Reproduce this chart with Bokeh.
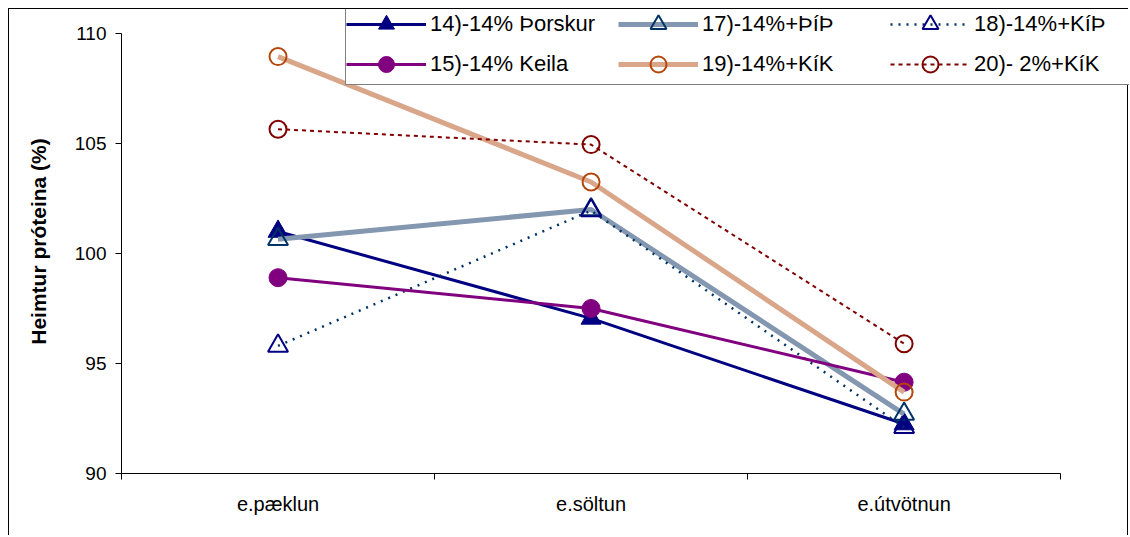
from bokeh.plotting import figure
from bokeh.models import Range1d, FixedTicker, Legend, LegendItem
from bokeh.embed import file_html
from bokeh.resources import INLINE

stages = ["e.pæklun", "e.söltun", "e.útvötnun"]
x_pos = [1, 2, 3]
s14 = [101.0, 97.05, 92.25]
s15 = [98.9, 97.5, 94.15]
s17 = [100.65, 102.0, 92.7]
s18 = [95.8, 101.95, 92.1]
s19 = [108.95, 103.25, 93.7]
s20 = [105.65, 104.95, 95.9]
names = ["14)-14% Þorskur", "15)-14% Keila", "17)-14%+ÞíÞ",
         "18)-14%+KíÞ", "19)-14%+KíK", "20)- 2%+KíK"]
y_ticks = [90, 95, 100, 105, 110]

FONT = "Liberation Sans"

# frame spans to the top/right of the canvas so the legend is not clipped;
# axes are limited with bounds
p = figure(width=1120, height=527, output_backend="svg", toolbar_location=None,
           x_range=Range1d(0.5, 3.72), y_range=Range1d(90, 111.09),
           min_border_left=112, min_border_top=0, min_border_right=0,
           min_border_bottom=63, margin=(8, 0, 0, 8),
           styles={"border-top": "1px solid black", "border-left": "1px solid black",
                   "border-right": "1px solid black"})
p.outline_line_color = None
p.xgrid.visible = False
p.ygrid.visible = False

# axes
p.yaxis.bounds = (90, 110)
p.yaxis.ticker = FixedTicker(ticks=y_ticks)
p.yaxis.major_tick_out = 6
p.yaxis.major_tick_in = 0
p.yaxis.minor_tick_line_color = None
p.yaxis.major_label_standoff = 9
p.yaxis.major_label_text_font = FONT
p.yaxis.major_label_text_font_size = "19px"
p.yaxis.major_label_text_color = "black"
p.yaxis.axis_label = "Heimtur próteina (%)"
p.yaxis.axis_label_text_font = FONT
p.yaxis.axis_label_text_font_style = "bold"
p.yaxis.axis_label_text_font_size = "21px"
p.yaxis.axis_label_text_color = "black"
p.yaxis.axis_label_standoff = 22
p.yaxis.axis_line_color = "black"

p.xaxis.bounds = (0.5, 3.5)
p.xaxis.ticker = FixedTicker(ticks=x_pos, minor_ticks=[0.5, 1.5, 2.5, 3.5])
p.xaxis.major_label_overrides = {x: s for x, s in zip(x_pos, stages)}
p.xaxis.major_tick_out = 0
p.xaxis.major_tick_in = 0
p.xaxis.minor_tick_out = 6
p.xaxis.minor_tick_in = 0
p.xaxis.minor_tick_line_color = "black"
p.xaxis.major_label_standoff = 13
p.xaxis.major_label_text_font = FONT
p.xaxis.major_label_text_font_size = "20px"
p.xaxis.major_label_text_color = "black"
p.xaxis.axis_line_color = "black"

items = {}

# 14 Þorskur
l14 = p.line(x_pos, s14, line_color="#000080", line_width=3)
m14 = p.scatter(x_pos, s14, marker="triangle", size=20, fill_color="#000080",
                line_color="#000080", line_width=1)
items[0] = [l14, m14]
# 17 +ÞíÞ
l17 = p.line(x_pos, s17, line_color="#8497B0", line_width=5)
m17 = p.scatter(x_pos, s17, marker="triangle", size=20, fill_color=None,
                line_color="#003366", line_width=2)
items[2] = [l17, m17]
# 18 +KíÞ
l18 = p.line(x_pos, s18, line_color="#003366", line_width=2.5, line_dash="2 6")
m18 = p.scatter(x_pos, s18, marker="triangle", size=20, fill_color=None,
                line_color="#000080", line_width=2)
items[3] = [l18, m18]
# 15 Keila
l15 = p.line(x_pos, s15, line_color="#800080", line_width=3)
m15 = p.scatter(x_pos, s15, marker="circle", size=18, fill_color="#800080",
                line_color="#800080", line_width=1)
items[1] = [l15, m15]
# 19 +KíK
l19 = p.line(x_pos, s19, line_color="#D9A68A", line_width=5)
m19 = p.scatter(x_pos, s19, marker="circle", size=17, fill_color=None,
                line_color="#B5470B", line_width=2)
items[4] = [l19, m19]
# 20 2%+KíK
l20 = p.line(x_pos, s20, line_color="#800000", line_width=2, line_dash="4 4")
m20 = p.scatter(x_pos, s20, marker="circle", size=17, fill_color=None,
                line_color="#800000", line_width=2)
items[5] = [l20, m20]

order = [0, 2, 3, 1, 4, 5]
legend = Legend(items=[LegendItem(label=names[i], renderers=items[i]) for i in order],
                orientation="horizontal", ncols=3,
                location=(224, 388),
                glyph_width=80, glyph_height=40, label_standoff=4,
                label_width=188, label_height=23,
                spacing=-3, padding=0, margin=0,
                label_text_font=FONT, label_text_font_size="22px",
                label_text_color="black",
                border_line_color="black", border_line_width=1,
                background_fill_color="white", background_fill_alpha=1.0)
p.add_layout(legend)

open("out.html", "w").write(file_html(p, INLINE))
